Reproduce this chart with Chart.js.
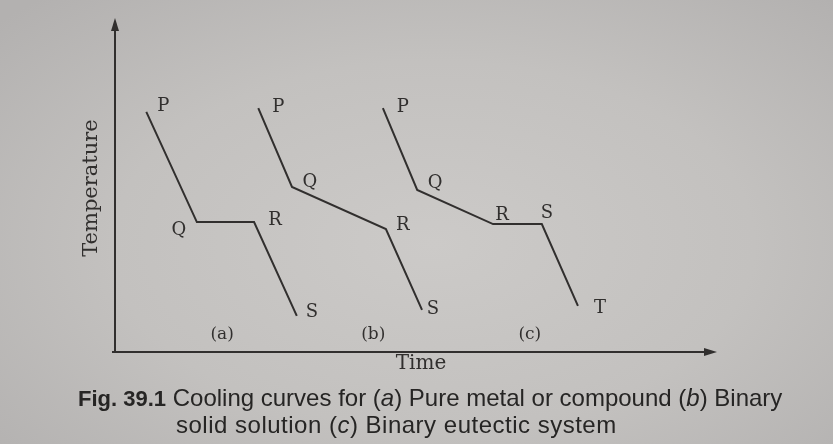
<!DOCTYPE html>
<html lang="en">

<head>
  <meta charset="UTF-8">
  <title>Cooling curves</title>
  <script src="https://cdn.jsdelivr.net/npm/chart.js"></script>
  <style>
    html, body {
      margin: 0;
      padding: 0;
    }

    body {
      width: 833px;
      height: 444px;
      overflow: hidden;
      position: relative;
      background: radial-gradient(ellipse 70% 75% at 52% 55%, #cccac8 0%, #c3c1bf 55%, #b3b1b0 100%);
    }

    #fig {
      position: absolute;
      left: 0;
      top: 0;
    }

    .caption {
      position: absolute;
      font-family: 'Liberation Sans', Arial, sans-serif;
      font-size: 24px;
      line-height: 27px;
      color: #262524;
      white-space: nowrap;
    }

    .caption b {
      font-size: 22px;
      font-weight: bold;
    }
  </style>
</head>

<body>

  <canvas id="fig" width="833" height="444"></canvas>
  <div class="caption" style="left: 78px; top: 384px;"><b>Fig. 39.1</b> Cooling curves for (<i>a</i>) Pure metal or compound (<i>b</i>) Binary</div>
  <div class="caption" style="left: 176px; top: 411px; letter-spacing: 0.5px;">solid solution (<i>c</i>) Binary eutectic system</div>

  <script>
    // axis range: both axes run 0..100 (arbitrary units, no ticks shown)
    const timeMax = 100;
    const tempMax = 100;

    // (a) pure metal or compound
    const timeA = [5.2, 13.6, 23.1, 30.2];
    const tempA = [71.9, 38.9, 38.9, 10.8];
    const marksA = ['P', 'Q', 'R', 'S'];

    // (b) binary solid solution
    const timeB = [23.8, 29.4, 45.0, 51.0];
    const tempB = [73.0, 49.4, 36.8, 12.6];
    const marksB = ['P', 'Q', 'R', 'S'];

    // (c) binary eutectic system
    const timeC = [44.5, 50.2, 62.8, 70.9, 76.9];
    const tempC = [73.0, 48.5, 38.3, 38.3, 13.8];
    const marksC = ['P', 'Q', 'R', 'S', 'T'];

    // sub-figure names under each curve
    const panelNames = ['(a)', '(b)', '(c)'];
    const panelTime = [17.8, 42.9, 68.9];
    const panelTemp = 5.3;

    // where each letter sits relative to its corner (px)
    const markOffsets = [
      [[17, -6], [-18, 8], [21, -2], [15, -4]],
      [[20, -1], [18, -5], [17, -4], [11, -1]],
      [[20, -1], [18, -7], [9, -9], [5, -11], [22, 2]]
    ];

    const curves = [
      { time: timeA, temp: tempA, marks: marksA },
      { time: timeB, temp: tempB, marks: marksB },
      { time: timeC, temp: tempC, marks: marksC }
    ];

    const inkColor = '#312f2e';
    const serif = "'DejaVu Serif', 'Liberation Serif', serif";

    function toPoints(time, temp) {
      return time.map((t, i) => ({ x: t, y: temp[i] }));
    }

    function arrowHead(ctx, x, y, dir) {
      // dir: 'up' or 'right'; filled triangle with its tip at (x, y)
      const len = 13, half = 4;
      ctx.beginPath();
      if (dir === 'up') {
        ctx.moveTo(x, y);
        ctx.lineTo(x - half, y + len);
        ctx.lineTo(x + half, y + len);
      } else {
        ctx.moveTo(x, y);
        ctx.lineTo(x - len, y - half);
        ctx.lineTo(x - len, y + half);
      }
      ctx.closePath();
      ctx.fill();
    }

    // axes with arrows, axis names, corner letters and (a)(b)(c)
    const sketchPlugin = {
      id: 'sketch',
      afterDraw(chart) {
        const { ctx, chartArea, scales } = chart;
        const { left, right, top, bottom } = chartArea;
        ctx.save();
        ctx.strokeStyle = inkColor;
        ctx.fillStyle = inkColor;
        ctx.lineWidth = 2;

        // axes
        ctx.beginPath();
        ctx.moveTo(left, bottom + 1);
        ctx.lineTo(left, top + 8);
        ctx.moveTo(left - 3, bottom);
        ctx.lineTo(right - 8, bottom);
        ctx.stroke();
        arrowHead(ctx, left, top, 'up');
        arrowHead(ctx, right, bottom, 'right');

        // axis names
        ctx.font = '20px ' + serif;
        ctx.textAlign = 'center';
        ctx.textBaseline = 'middle';
        ctx.fillText('Time', 421, bottom + 12);
        ctx.save();
        ctx.translate(92, (top + bottom) / 2 + 3);
        ctx.rotate(-Math.PI / 2);
        ctx.font = '21px ' + serif;
        ctx.fillText('Temperature', 0, 0);
        ctx.restore();

        // corner letters
        ctx.font = '18px ' + serif;
        curves.forEach((c, ci) => {
          c.marks.forEach((m, i) => {
            const px = scales.x.getPixelForValue(c.time[i]) + markOffsets[ci][i][0];
            const py = scales.y.getPixelForValue(c.temp[i]) + markOffsets[ci][i][1];
            ctx.fillText(m, px, py);
          });
        });

        // sub-figure names
        ctx.font = '17px ' + serif;
        panelNames.forEach((name, i) => {
          ctx.fillText(name, scales.x.getPixelForValue(panelTime[i]), scales.y.getPixelForValue(panelTemp));
        });
        ctx.restore();
      }
    };

    new Chart(document.getElementById('fig'), {
      type: 'scatter',
      data: {
        datasets: curves.map(c => ({
          data: toPoints(c.time, c.temp),
          showLine: true,
          borderColor: inkColor,
          borderWidth: 2,
          borderJoinStyle: 'miter',
          pointRadius: 0,
          tension: 0
        }))
      },
      options: {
        responsive: false,
        animation: false,
        devicePixelRatio: 1,
        layout: {
          padding: { left: 115, right: 116, top: 18, bottom: 92 }
        },
        scales: {
          x: { type: 'linear', min: 0, max: timeMax, display: false },
          y: { type: 'linear', min: 0, max: tempMax, display: false }
        },
        plugins: {
          legend: { display: false },
          tooltip: { enabled: false }
        }
      },
      plugins: [sketchPlugin]
    });
  </script>

</body>

</html>
